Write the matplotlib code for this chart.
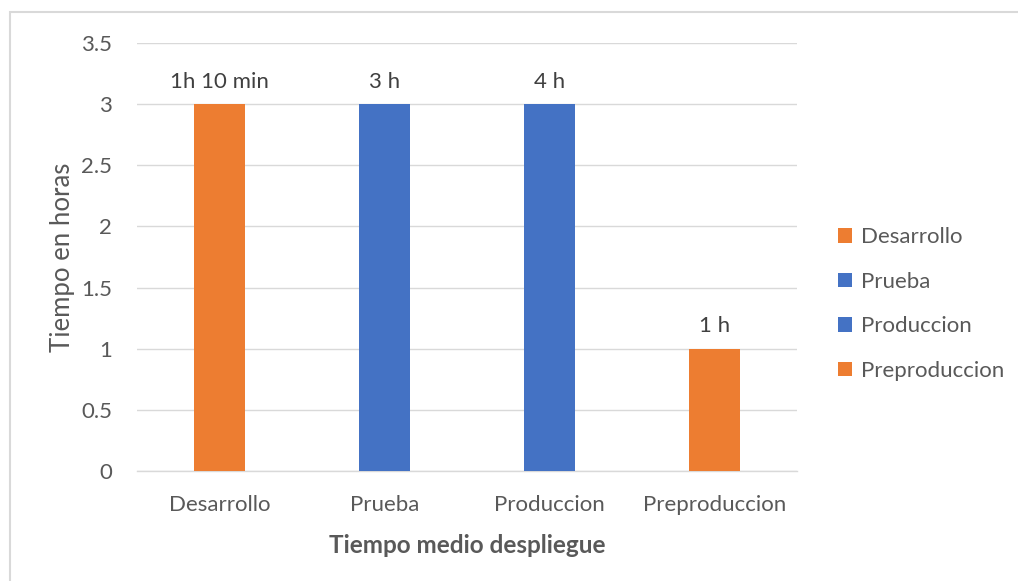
import matplotlib
matplotlib.use("Agg")
import matplotlib.pyplot as plt
from matplotlib.patches import Rectangle, Patch

plt.rcParams['font.family'] = ['Lato', 'DejaVu Sans']

categories = ["Desarrollo", "Prueba", "Produccion", "Preproduccion"]
hours = [3, 3, 3, 1]
bar_labels = ["1h 10 min", "3 h", "4 h", "1 h"]
yticks = [0, 0.5, 1, 1.5, 2, 2.5, 3, 3.5]

ORANGE = "#ED7D31"
BLUE = "#4472C4"
colors = [ORANGE, BLUE, BLUE, ORANGE]
TEXT = "#595959"
GRID = "#D9D9D9"

fig = plt.figure(figsize=(10.18, 5.81), dpi=100)
W, H = 1018, 581
ax = fig.add_axes([137 / W, 1 - 471 / H, 660 / W, (471 - 43) / H])

x = list(range(len(categories)))
bars = ax.bar(x, hours, width=0.315, color=colors, zorder=3)
for b, lab in zip(bars, bar_labels):
    ax.annotate(lab, (b.get_x() + b.get_width() / 2, b.get_height()),
                xytext=(0, 9), textcoords="offset points",
                ha="center", va="bottom", fontsize=16, color="#404040")

ax.set_xlim(-0.5, len(categories) - 0.5)
ax.set_ylim(0, 3.5)
ax.set_yticks(yticks)
ax.set_yticklabels([f"{t:g}" for t in yticks])
ax.set_xticks(x)
ax.set_xticklabels(categories)
ax.tick_params(axis="both", length=0, labelsize=16, labelcolor=TEXT)
ax.tick_params(axis="y", pad=18)
ax.tick_params(axis="x", pad=17)
ax.yaxis.grid(True, color=GRID, linewidth=1, zorder=0)
for s in ["top", "right", "left"]:
    ax.spines[s].set_visible(False)
ax.spines["bottom"].set_color(GRID)
ax.spines["bottom"].set_linewidth(1)

ax.set_ylabel("Tiempo en horas", fontsize=18.5, color=TEXT, labelpad=4)
ax.set_xlabel("Tiempo medio despliegue", fontsize=17.5, color=TEXT,
              fontweight="bold", labelpad=14)

handles = [Patch(facecolor=c, edgecolor="none") for c in colors]
fig.legend(handles, categories, loc="center left",
           bbox_to_anchor=(818 / W, 1 - 304 / H), frameon=False,
           fontsize=16, labelcolor=TEXT, handlelength=0.63, handleheight=0.63,
           handletextpad=0.4, labelspacing=1.1)

# chart area border (only left and top edges fall inside the canvas)
fig.add_artist(Rectangle((9.5 / W, -0.1), 1.2, 1.1 - 12.5 / H,
                         transform=fig.transFigure, fill=False,
                         edgecolor="#D9D9D9", linewidth=1.5))

fig.savefig("out.png", dpi=100, facecolor="white")
